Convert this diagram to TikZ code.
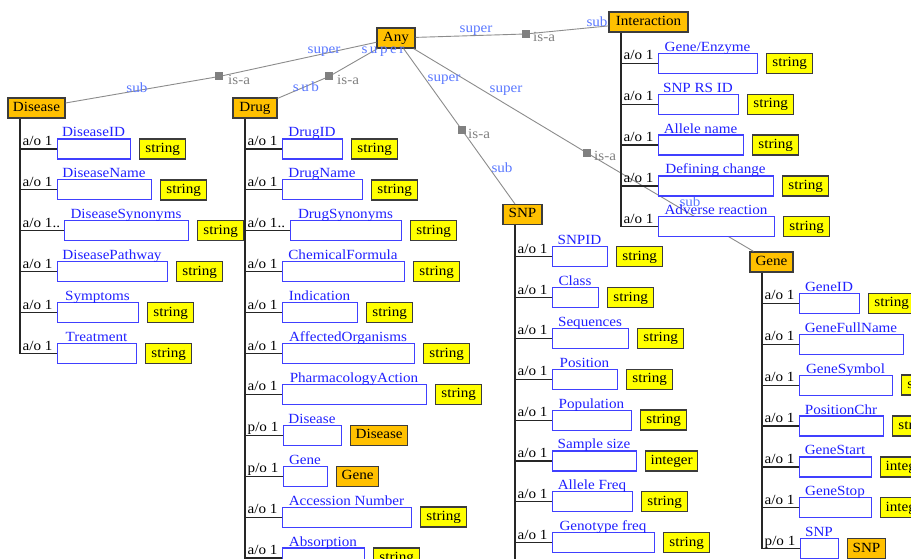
\documentclass[tikz,border=0pt]{standalone}
\usepackage{fontspec}
\setmainfont[FakeStretch=1.08]{Liberation Serif}
\newfontfamily\spacedfont[LetterSpace=18,FakeStretch=1.08]{Liberation Serif}
\newcommand\dfont{\fontsize{14}{16}\selectfont}
\definecolor{clsfill}{RGB}{255,192,0}
\definecolor{typefill}{RGB}{255,255,0}
\definecolor{boxedge}{RGB}{60,60,60}
\definecolor{valedge}{RGB}{64,64,255}
\definecolor{valtext}{RGB}{32,32,255}
\definecolor{rolecol}{RGB}{90,120,255}
\definecolor{isacol}{RGB}{128,128,128}
\definecolor{linkcol}{RGB}{140,140,140}
\newcommand\arow[9]{%
  \pgfmathsetmacro\bw{(#6)-(#5)}%
  \coordinate (#1t) at (#2,#3);
  \node[valbox,anchor=west,minimum width=\bw pt] (#1b) at (#5,#3) {};
  \node[attrlab,anchor=base] (#1l) at ({((#5)+(#6))/2},{(#3)-12}) {#7};
  \node[prelab,anchor=base west] (#1p) at ({(#2)+2.5},{(#3)-3.5}) {#4};
  \draw[tree] (#1t) -- (#1b.west);
  \ifx\relax#8\relax\else
  \node[#9,anchor=west] (#1y) at ({(#6)+9},#3) {#8};
  \fi
}
\begin{document}
\begin{tikzpicture}[x=1pt,y=-1pt,
  clsbox/.style={draw=boxedge,line width=1.3pt,fill=clsfill,inner xsep=5pt,inner ysep=0pt,
    minimum height=20pt,text height=10pt,text depth=3pt,font=\dfont,text=black},
  typebox/.style={clsbox,fill=typefill,minimum width=46pt},
  reftype/.style={clsbox},
  valbox/.style={draw=valedge,line width=1.2pt,fill=white,minimum height=20pt,inner sep=0pt},
  attrlab/.style={text=valtext,inner sep=0pt,font=\dfont},
  prelab/.style={text=black,inner sep=0pt,font=\dfont},
  tree/.style={draw=black!85,line width=1.2pt},
  link/.style={draw=linkcol,line width=0.9pt},
  isasq/.style={fill=isacol,minimum size=8pt,inner sep=0pt},
  role/.style={text=rolecol,inner sep=0pt,font=\dfont},
  srole/.style={text=rolecol,inner sep=0pt,font=\dfont\spacedfont},
  isa/.style={text=isacol,inner sep=0pt,font=\dfont,anchor=west}]
\useasboundingbox (0,0) rectangle (911,559);
\fill[white] (0,0) rectangle (911,559);
\clip (0,0) rectangle (911,559);
\coordinate (bottom) at (0,559);
% classes
\node[clsbox,minimum width=38pt] (any) at (396,38) {Any};
\node[clsbox,minimum width=79pt] (interaction) at (648.5,22) {Interaction};
\node[clsbox,minimum width=57pt] (disease) at (36.5,108) {Disease};
\node[clsbox,minimum width=44pt] (drug) at (255,108) {Drug};
\node[clsbox,minimum width=39pt] (snp) at (522.5,214.5) {SNP};
\node[clsbox,minimum width=43pt] (gene) at (771.5,262) {Gene};
% is-a connectors
\coordinate (q1) at (219,76.5);
\coordinate (q2) at (329,76.5);
\coordinate (q3) at (525.5,34);
\coordinate (q4) at (462,130);
\coordinate (q5) at (587,153);
\draw[link] (any) -- (q1) -- (disease);
\draw[link] (any) -- (q2) -- (drug);
\draw[link] (any) -- (q3) -- (interaction);
\draw[link] (any) -- (q4) -- (snp);
\draw[link] (any) -- (q5) -- (gene);
\foreach \q in {q1,q2,q3,q4,q5} \node[isasq] (\q s) at (\q) {};
\node[role] (r1p) at (324,52) {super};
\node[role] (r1b) at (137,88) {sub};
\node[isa] (r1i) at (228,80) {is-a};
\node[srole] (r2p) at (383,52) {super};
\node[srole] (r2b) at (306,87) {sub};
\node[isa] (r2i) at (337,80) {is-a};
\node[role] (r3p) at (476,31) {super};
\node[role] (r3b) at (597,22) {sub};
\node[isa] (r3i) at (533,37) {is-a};
\node[role] (r4p) at (444,80) {super};
\node[role] (r4b) at (502,168) {sub};
\node[isa] (r4i) at (468,134) {is-a};
\node[role] (r5p) at (506,91) {super};
\node[role] (r5b) at (690,202) {sub};
\node[isa] (r5i) at (594,156) {is-a};
% Disease
\arow{d1}{20}{149}{a/o 1}{57}{130}{DiseaseID}{string}{typebox}
\arow{d2}{20}{189.9}{a/o 1}{57}{151}{DiseaseName}{string}{typebox}
\arow{d3}{20}{230.8}{a/o 1..}{64}{188}{DiseaseSynonyms}{string}{typebox}
\arow{d4}{20}{271.7}{a/o 1}{57}{167}{DiseasePathway}{string}{typebox}
\arow{d5}{20}{312.6}{a/o 1}{57}{138}{Symptoms}{string}{typebox}
\arow{d6}{20}{353.5}{a/o 1}{57}{136}{Treatment}{string}{typebox}
\draw[tree] (disease.south -| d1t) -- (d6t);
% Drug
\arow{g1}{245}{149}{a/o 1}{282}{342}{DrugID}{string}{typebox}
\arow{g2}{245}{189.9}{a/o 1}{282}{362}{DrugName}{string}{typebox}
\arow{g3}{245}{230.8}{a/o 1..}{290}{401}{DrugSynonyms}{string}{typebox}
\arow{g4}{245}{271.7}{a/o 1}{282}{404}{ChemicalFormula}{string}{typebox}
\arow{g5}{245}{312.6}{a/o 1}{282}{357}{Indication}{string}{typebox}
\arow{g6}{245}{353.5}{a/o 1}{282}{414}{AffectedOrganisms}{string}{typebox}
\arow{g7}{245}{394.4}{a/o 1}{282}{426}{PharmacologyAction}{string}{typebox}
\arow{g8}{245}{435.3}{p/o 1}{283}{341}{Disease}{Disease}{reftype}
\arow{g9}{245}{476.2}{p/o 1}{283}{327}{Gene}{Gene}{reftype}
\arow{g10}{245}{517.1}{a/o 1}{282}{411}{Accession Number}{string}{typebox}
\arow{g11}{245}{558}{a/o 1}{282}{364}{Absorption}{string}{typebox}
\draw[tree] (drug.south -| g1t) -- (g1t |- bottom);
% SNP
\arow{s1}{515}{256.7}{a/o 1}{552}{607}{SNPID}{string}{typebox}
\arow{s2}{515}{297.5}{a/o 1}{552}{598}{Class}{string}{typebox}
\arow{s3}{515}{338.4}{a/o 1}{552}{628}{Sequences}{string}{typebox}
\arow{s4}{515}{379.2}{a/o 1}{552}{617}{Position}{string}{typebox}
\arow{s5}{515}{420.1}{a/o 1}{552}{631}{Population}{string}{typebox}
\arow{s6}{515}{460.9}{a/o 1}{552}{636}{Sample size}{integer}{typebox}
\arow{s7}{515}{501.8}{a/o 1}{552}{632}{Allele Freq}{string}{typebox}
\arow{s8}{515}{542.6}{a/o 1}{552}{654}{Genotype freq}{string}{typebox}
\draw[tree] (snp.south -| s1t) -- (s1t |- bottom);
% Interaction
\arow{i1}{621}{63.3}{a/o 1}{658}{757}{Gene/Enzyme}{string}{typebox}
\arow{i2}{621}{104.2}{a/o 1}{658}{738}{SNP RS ID}{string}{typebox}
\arow{i3}{621}{145.1}{a/o 1}{658}{743}{Allele name}{string}{typebox}
\arow{i4}{621}{186}{a/o 1}{658}{773}{Defining change}{string}{typebox}
\arow{i5}{621}{226.8}{a/o 1}{658}{774}{Adverse reaction}{string}{typebox}
\draw[tree] (interaction.south -| i1t) -- (i5t);
% Gene
\arow{n1}{762}{303.3}{a/o 1}{799}{859}{GeneID}{string}{typebox}
\arow{n2}{762}{344.2}{a/o 1}{799}{903}{GeneFullName}{}{typebox}
\arow{n3}{762}{385.1}{a/o 1}{799}{892}{GeneSymbol}{string}{typebox}
\arow{n4}{762}{426}{a/o 1}{799}{883}{PositionChr}{string}{typebox}
\arow{n5}{762}{466.9}{a/o 1}{799}{871}{GeneStart}{integer}{typebox}
\arow{n6}{762}{507.8}{a/o 1}{799}{871}{GeneStop}{integer}{typebox}
\arow{n7}{762}{548.7}{p/o 1}{800}{838}{SNP}{SNP}{reftype}
\draw[tree] (gene.south -| n1t) -- (n7t);
\end{tikzpicture}
\end{document}
